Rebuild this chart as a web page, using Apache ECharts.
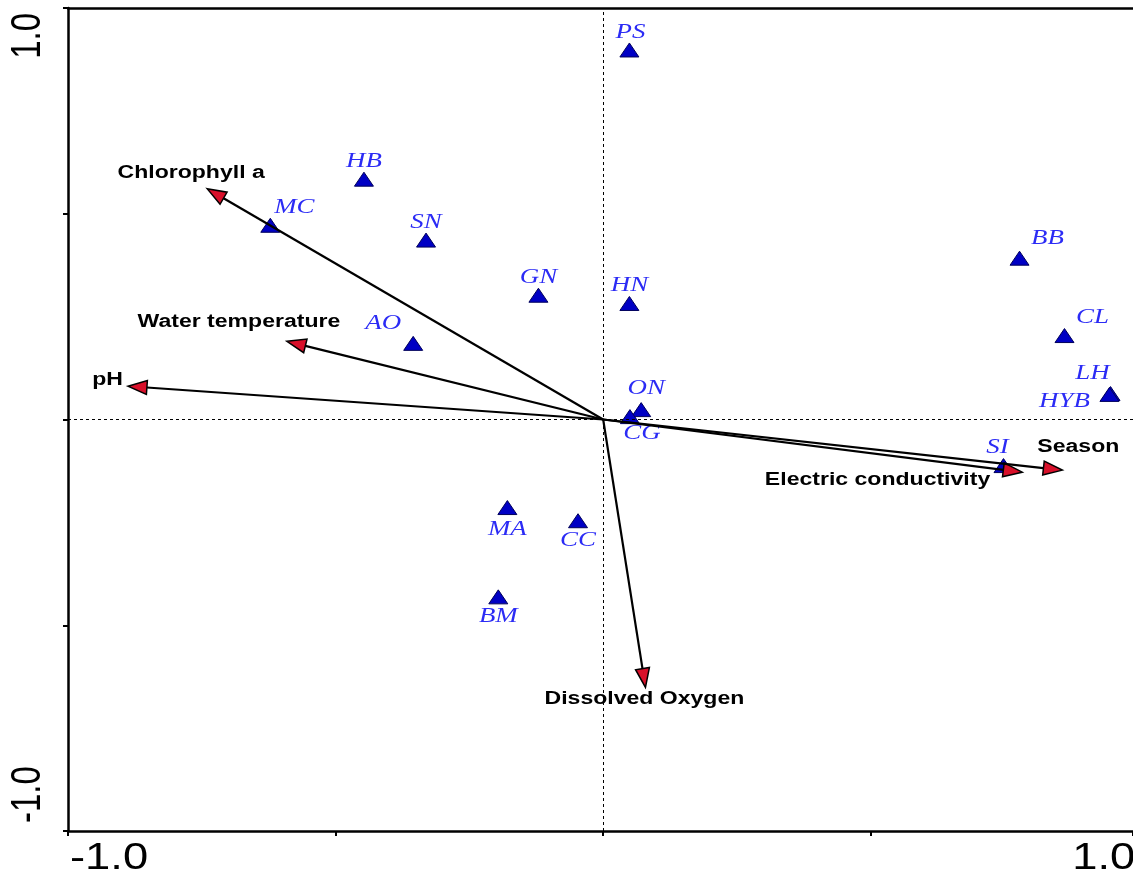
<!DOCTYPE html>
<html>
<head>
<meta charset="utf-8">
<title>Ordination biplot</title>
<script src="https://cdn.jsdelivr.net/npm/echarts@6/dist/echarts.min.js"></script>
<style>
  html, body { margin: 0; padding: 0; background: #fff; }
  #chart { width: 1133px; height: 878px; }
</style>
</head>
<body>
<div id="chart"></div>
<script>
// Sampling sites (axis 1 / axis 2 scores)
const siteNames = ['PS', 'HB', 'MC', 'SN', 'GN', 'HN', 'AO', 'ON', 'CG', 'BB', 'CL', 'LH', 'HYB', 'SI', 'MA', 'CC', 'BM'];
const siteX = [0.049, -0.447, -0.622, -0.331, -0.121, 0.049, -0.355, 0.071, 0.050, 0.778, 0.862, 0.948, 0.946, 0.748, -0.179, -0.047, -0.196];
const siteY = [0.898, 0.584, 0.472, 0.436, 0.302, 0.282, 0.185, 0.024, 0.007, 0.392, 0.204, 0.063, 0.061, -0.112, -0.214, -0.246, -0.431];

// Environmental variables (arrow tips)
const envNames = ['Chlorophyll a', 'Water temperature', 'pH', 'Dissolved Oxygen', 'Electric conductivity', 'Season'];
const envX = [-0.740, -0.591, -0.888, 0.079, 0.783, 0.858];
const envY = [0.561, 0.190, 0.081, -0.651, -0.128, -0.123];

// Axis end labels
const xTickLabels = ['-1.0', '1.0'];
const yTickLabels = ['-1.0', '1.0'];

// Visible extent of axis 1 (the frame stops just short of +1.0)
const xMin = -1, xMax = 0.99;

// Label placement (pixel offsets from the mark)
const siteLabelOffset = {
  PS: [1, -17], MC: [24, -18], AO: [-30, -20], ON: [5, -21], CG: [12, 17],
  BB: [28, -20], CL: [28, -18], LH: [-18, -20], HYB: [-45, 7], SI: [-6, -18],
  MA: [0, 22], CC: [0, 20], BM: [0, 20]
};
const envLabelPlace = {
  'Chlorophyll a': { dx: -16, dy: -16, align: 'center' },
  'Water temperature': { dx: -48, dy: -19, align: 'center' },
  'pH': { dx: -5, dy: -6, align: 'right' },
  'Dissolved Oxygen': { dx: -1, dy: 12, align: 'center' },
  'Electric conductivity': { dx: -32, dy: 8, align: 'right' },
  'Season': { dx: -25, dy: -23, align: 'left' }
};

const SANS = '"Liberation Sans", Arial, sans-serif';
const SERIF = '"Liberation Serif", "Times New Roman", serif';
const STRETCH = 1.28;

const chart = echarts.init(document.getElementById('chart'), null, { renderer: 'canvas' });

function renderSite(params, api) {
  const p = api.coord([api.value(0), api.value(1)]);
  const name = siteNames[api.value(2)];
  const off = siteLabelOffset[name] || [0, -18];
  return {
    type: 'group',
    children: [
      {
        type: 'polygon',
        shape: { points: [[p[0] - 9.5, p[1] + 7], [p[0] + 9.5, p[1] + 7], [p[0], p[1] - 7]] },
        style: { fill: '#0000c4', stroke: '#00005a', lineWidth: 1 }
      },
      {
        type: 'text',
        x: p[0] + off[0],
        y: p[1] + off[1],
        scaleX: STRETCH,
        style: {
          text: name,
          font: 'italic 21px ' + SERIF,
          fill: '#2b2bf5',
          align: 'center',
          verticalAlign: 'middle'
        }
      }
    ]
  };
}

function renderArrow(params, api) {
  const o = api.coord([0, 0]);
  const t = api.coord([api.value(0), api.value(1)]);
  const name = envNames[api.value(2)];
  const dx = t[0] - o[0], dy = t[1] - o[1];
  const len = Math.sqrt(dx * dx + dy * dy);
  const ux = dx / len, uy = dy / len;
  const nx = -uy, ny = ux;
  const headLen = 19, headHalf = 7;
  const bx = t[0] - ux * headLen, by = t[1] - uy * headLen;
  const lp = envLabelPlace[name];
  return {
    type: 'group',
    children: [
      {
        type: 'line',
        shape: { x1: o[0], y1: o[1], x2: bx, y2: by },
        style: { stroke: '#000', lineWidth: 2.2 }
      },
      {
        type: 'polygon',
        shape: { points: [[t[0], t[1]], [bx + nx * headHalf, by + ny * headHalf], [bx - nx * headHalf, by - ny * headHalf]] },
        style: { fill: '#d8102a', stroke: '#000', lineWidth: 1.5, lineJoin: 'miter' }
      },
      {
        type: 'text',
        x: t[0] + lp.dx,
        y: t[1] + lp.dy,
        scaleX: STRETCH,
        style: {
          text: name,
          font: 'bold 18px ' + SANS,
          fill: '#000',
          align: lp.align,
          verticalAlign: 'middle'
        }
      }
    ]
  };
}

const axisLineStyle = { show: true, onZero: false, lineStyle: { color: '#000', width: 2.5 } };
const tickStyle = { show: true, length: 5, lineStyle: { color: '#000', width: 2 } };

chart.setOption({
  animation: false,
  backgroundColor: '#ffffff',
  grid: { left: 68, right: 0, top: 8, bottom: 47 },
  xAxis: [
    { type: 'value', position: 'bottom', min: xMin, max: xMax, interval: 0.5,
      axisLine: axisLineStyle, axisTick: tickStyle,
      axisLabel: { show: false }, splitLine: { show: false } },
    { type: 'value', position: 'top', min: xMin, max: xMax,
      axisLine: axisLineStyle, axisTick: { show: false },
      axisLabel: { show: false }, splitLine: { show: false } }
  ],
  yAxis: { type: 'value', position: 'left', min: -1, max: 1, interval: 0.5,
    axisLine: axisLineStyle, axisTick: tickStyle,
    axisLabel: { show: false }, splitLine: { show: false } },
  series: [
    {
      type: 'line',
      data: [],
      z: 1,
      markLine: {
        silent: true,
        symbol: ['none', 'none'],
        label: { show: false },
        lineStyle: { color: '#000', type: [3, 3], width: 1 },
        data: [{ xAxis: 0 }, { yAxis: 0 }]
      }
    },
    {
      type: 'custom',
      z: 2,
      renderItem: renderSite,
      encode: { x: 0, y: 1 },
      data: siteNames.map((n, i) => [siteX[i], siteY[i], i])
    },
    {
      type: 'custom',
      z: 3,
      renderItem: renderArrow,
      encode: { x: 0, y: 1 },
      data: envNames.map((n, i) => [envX[i], envY[i], i])
    }
  ]
});

// End labels of both axes, placed from the axis scale
const lo = chart.convertToPixel({ xAxisIndex: 0, yAxisIndex: 0 }, [-1, -1]);
const hi = chart.convertToPixel({ xAxisIndex: 0, yAxisIndex: 0 }, [1, 1]);
const tickFont = '36px ' + SANS;
chart.setOption({
  graphic: [
    { type: 'text', x: lo[0] + 2, y: lo[1] + 28, scaleX: 1.26,
      style: { text: xTickLabels[0], font: tickFont, fill: '#000', align: 'left', verticalAlign: 'middle' } },
    { type: 'text', x: hi[0] - 3, y: lo[1] + 28, scaleX: 1.26,
      style: { text: xTickLabels[1], font: tickFont, fill: '#000', align: 'right', verticalAlign: 'middle' } },
    { type: 'text', x: 28, y: lo[1] - 8, rotation: Math.PI / 2, scaleY: STRETCH,
      style: { text: yTickLabels[0], font: '33px ' + SANS, fill: '#000', align: 'left', verticalAlign: 'middle' } },
    { type: 'text', x: 28, y: hi[1] + 5, rotation: Math.PI / 2, scaleY: STRETCH,
      style: { text: yTickLabels[1], font: '33px ' + SANS, fill: '#000', align: 'right', verticalAlign: 'middle' } }
  ]
});
</script>
</body>
</html>
